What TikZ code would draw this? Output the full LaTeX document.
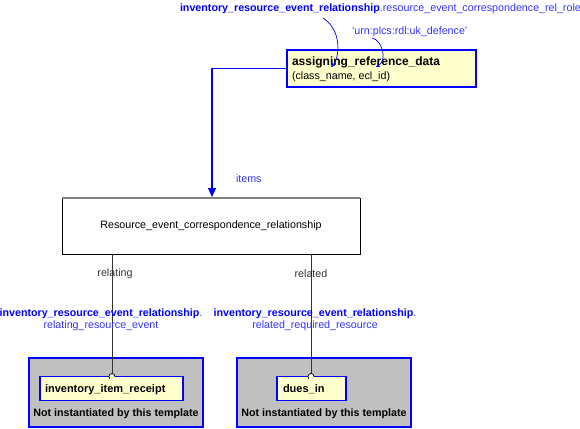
\documentclass[tikz,border=0pt]{standalone}
\usepackage{fontspec}
\setmainfont{Liberation Sans}
\usetikzlibrary{arrows.meta}
\definecolor{lblue}{HTML}{0000FF}
\definecolor{tblue}{HTML}{3333FF}
\definecolor{yel}{HTML}{FFFFCC}
\definecolor{gbox}{HTML}{C0C0C0}
\tikzset{
  every node/.style={inner sep=0pt, outer sep=0pt},
  small/.style={font=\fontsize{10.7}{12.5}\selectfont},
  bluetxt/.style={small, text=tblue},
  entity/.style={draw=lblue, line width=1.5pt, fill=yel},
  grey/.style={draw=lblue, line width=1.5pt, fill=gbox},
  conn/.style={draw=black!80, line width=0.8pt},
  blueconn/.style={draw=lblue, line width=1.2pt},
}
\begin{document}
\begin{tikzpicture}[x=1pt,y=-1pt]
\useasboundingbox (0,0) rectangle (580,428);
% top labels
\node[small, anchor=base west] (toplbl) at (180,12) {\textcolor{lblue}{\textbf{inventory\_resource\_event\_relationship}}\textcolor{tblue}{.resource\_event\_correspondence\_rel\_role}};
\node[bluetxt, anchor=base west] (urn) at (352,35) {‘urn:plcs:rdl:uk\_defence’};
% assigning_reference_data
\node[entity, minimum width=189pt, minimum height=37pt] (ard) at (381.5,68.5) {};
\node[anchor=base west, font=\fontsize{12}{14}\selectfont\bfseries] (ardt) at (292,66) {assigning\_reference\_data};
\node[small, anchor=base west] (ardp) at (292,79) {(class\_name, ecl\_id)};
% curves from labels
\coordinate (c1s) at (323,18);
\coordinate (c1e) at (331,67);
\coordinate (c2s) at (372,38);
\coordinate (c2e) at (376,67);
\draw[blue, line width=0.7pt, -{Stealth[length=4pt,width=4pt]}] (c1s) .. controls (342,30) and (340,58) .. (c1e);
\draw[blue, line width=0.7pt, -{Stealth[length=4pt,width=4pt]}] (c2s) .. controls (382,40) and (388,60) .. (c2e);
% main relationship box
\node[draw=black, line width=0.8pt, fill=white, minimum width=298pt, minimum height=56pt] (rec) at (211,226) {};
\draw[gray, line width=1.5pt] (rec.north west) -- (rec.north east);
\node[small] (rect) at (211,226) {Resource\_event\_correspondence\_relationship};
% items arrow
\coordinate (itm) at (212,197);
\draw[blueconn, -{Triangle[length=9pt,width=8pt]}] (ard.west) -| (itm);
\node[bluetxt, anchor=base west] (items) at (236,182) {items};
% bottom gray boxes
\node[grey, minimum width=174pt, minimum height=69pt] (g1) at (116,392.5) {};
\node[grey, minimum width=174pt, minimum height=69pt] (g2) at (324,392.5) {};
\node[entity, minimum width=143pt, minimum height=24pt] (e1) at (111.5,388.5) {};
\node[entity, minimum width=69pt, minimum height=24pt] (e2) at (311.5,388.5) {};
\node[anchor=base west, font=\fontsize{11}{13}\selectfont\bfseries] (e1t) at (45,392) {inventory\_item\_receipt};
\node[anchor=base west, font=\fontsize{11}{13}\selectfont\bfseries] (e2t) at (283,392) {dues\_in};
\node[font=\fontsize{10.7}{12.5}\selectfont\bfseries] (n1) at (116,414) {Not instantiated by this template};
\node[font=\fontsize{10.7}{12.5}\selectfont\bfseries] (n2) at (324,414) {Not instantiated by this template};
% connectors to bottom
\coordinate (o1) at (112,373.5);
\coordinate (o2) at (311,373.5);
\draw[conn] (rec.south -| o1) -- (o1);
\draw[conn] (rec.south -| o2) -- (o2);
\draw[black, line width=0.7pt, fill=white] (112,376.5) circle (3pt);
\draw[black, line width=0.7pt, fill=white] (311,376.5) circle (3pt);
\fill[yel] (109.5,377.3) rectangle (114.5,380);
\fill[yel] (308.5,377.3) rectangle (313.5,380);
% labels
\node[small, text=black!80] (rel1) at (115,274) {relating};
\node[small, text=black!80] (rel2) at (311,274) {related};
\node[small, align=center] (lb1) at (101,319.5) {\textcolor{lblue}{\textbf{inventory\_resource\_event\_relationship}}\textcolor{tblue}{.}\\[-1pt]\textcolor{tblue}{relating\_resource\_event}};
\node[small, align=center] (lb2) at (315,319.5) {\textcolor{lblue}{\textbf{inventory\_resource\_event\_relationship}}\textcolor{tblue}{.}\\[-1pt]\textcolor{tblue}{related\_required\_resource}};
\end{tikzpicture}
\end{document}
